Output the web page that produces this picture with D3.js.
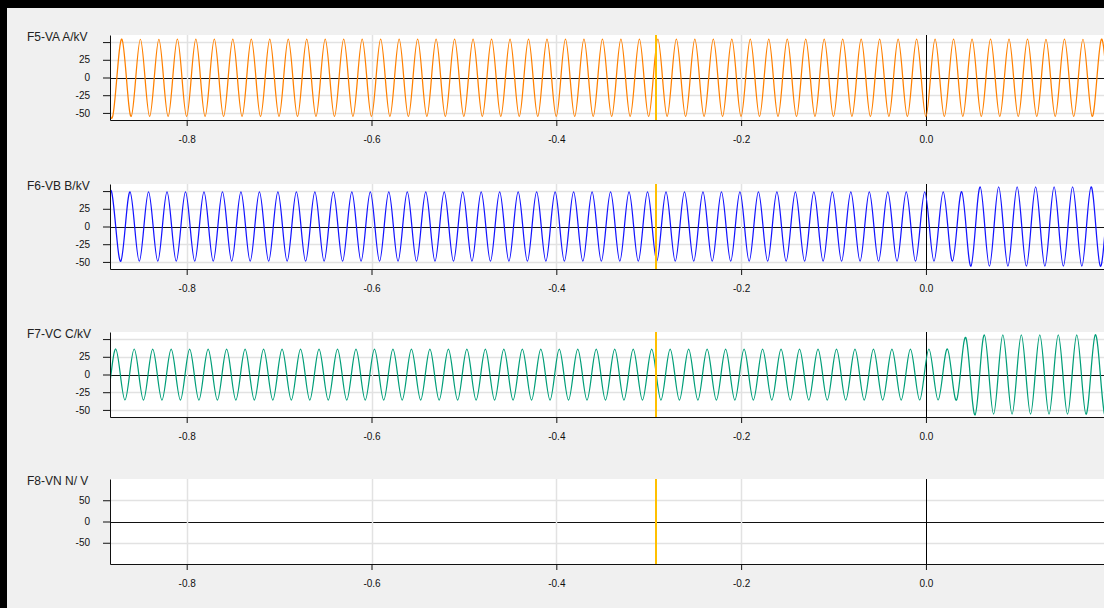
<!DOCTYPE html>
<html>
<head>
<meta charset="utf-8">
<script src="https://cdn.jsdelivr.net/npm/d3@7"></script>
<style>
html, body { margin: 0; padding: 0; background: #f0f0f0; overflow: hidden; }
svg { display: block; font-family: "Liberation Sans", Arial, sans-serif; }
#frame-left { position: fixed; left: 0; top: 0; width: 7px; height: 608px; background: #000; }
#frame-top { position: fixed; left: 0; top: 0; width: 1104px; height: 8px; background: #000; }
</style>
</head>
<body>
<svg id="chart"></svg>
<div id="frame-left"></div>
<div id="frame-top"></div>
<script>
// channel setup
const channelNames = ["F5-VA A/kV", "F6-VB B/kV", "F7-VC C/kV", "F8-VN N/ V"];
const channelColors = ["#ff8000", "#1414ff", "#009e78", null];
const channelLimits = [60, 60, 60, 100];
const timeTicks = [-0.8, -0.6, -0.4, -0.2, 0.0];
const kvTicks = [50, 25, 0, -25, -50];
const kvTickLabels = ["", "25", "0", "-25", "-50"];
const vTicks = [50, 0, -50];
const vTickLabels = ["50", "0", "-50"];
const cursorTime = -0.2924;

// peak / trough values read per half cycle (50 Hz -> 0.01 s apart)
const halfPeriod = 0.01;
const firstExtremeTime = [-0.8901, -0.8913, -0.9068];
const vaExtremes = [
    54, -55, 54, -55, 54, -55, 54, -55, 54, -55, 54, -55, 54, -55, 54, -55, 54, -55, 54, -55,
    54, -55, 54, -55, 54, -55, 54, -55, 54, -55, 54, -55, 54, -55, 54, -55, 54, -55, 54, -55,
    54, -55, 54, -55, 54, -55, 54, -55, 54, -55, 54, -55, 54, -55, 54, -55, 54, -55, 54, -55,
    54, -55, 54, -55, 54, -55, 54, -55, 54, -55, 54, -55, 54, -55, 54, -55, 54, -55, 54, -55,
    54, -55, 54, -55, 54, -55, 54, -55, 54, -55, 54, -55, 54, -55, 54, -55, 54, -55, 54, -55,
    54, -55, 54, -55, 54, -55, 54, -55, 54, -55, 54
];
const vbExtremes = [
    -49, 49, -49, 49, -49, 49, -49, 49, -49, 49, -49, 49, -49, 49, -49, 49, -49, 49, -49, 49,
    -49, 49, -49, 49, -49, 49, -49, 49, -49, 49, -49, 49, -49, 49, -49, 49, -49, 49, -49, 49,
    -49, 49, -49, 49, -49, 49, -49, 49, -49, 49, -49, 49, -49, 49, -49, 49, -49, 49, -49, 49,
    -49, 49, -49, 49, -49, 49, -49, 49, -49, 49, -49, 49, -49, 49, -49, 49, -49, 49, -49, 49,
    -49, 49, -49, 49, -49, 49, -49, 49, -49, 49, -49, 49, -49, 49,
    -56, 56, -56, 56, -56, 56, -56, 56, -56, 56, -56, 56, -56, 56, -56, 56, -56
];
const vcExtremes = [
    -36, 36, -36, 36, -36, 36, -36, 36, -36, 36, -36, 36, -36, 36, -36, 36, -36, 36, -36, 36,
    -36, 36, -36, 36, -36, 36, -36, 36, -36, 36, -36, 36, -36, 36, -36, 36, -36, 36, -36, 36,
    -36, 36, -36, 36, -36, 36, -36, 36, -36, 36, -36, 36, -36, 36, -36, 36, -36, 36, -36, 36,
    -36, 36, -36, 36, -36, 36, -36, 36, -36, 36, -36, 36, -36, 36, -36, 36, -36, 36, -36, 36,
    -36, 36, -36, 36, -36, 36, -36, 36, -36, 36, -36, 36, -36, 36, -36,
    52, -57,
    56, -56, 56, -56, 56, -56, 56, -56, 56, -56, 56, -56, 56, -56, 56
];
const channelExtremes = [vaExtremes, vbExtremes, vcExtremes, []];

const svgWidth = 1104, svgHeight = 608;
const plotLeft = 110, plotRight = 1120, panelHeight = 85;
const panelTops = [35, 184, 332, 479];

const svg = d3.select('#chart')
    .attr("width", svgWidth)
    .attr("height", svgHeight);

svg.append("rect").attr("width", svgWidth).attr("height", svgHeight).attr("fill", "#f0f0f0");

const x = d3.scaleLinear()
    .domain([-0.883, 0.21])
    .range([plotLeft, plotRight]);

// snap 1px lines to the pixel grid
const crisp = v => Math.round(v) + 0.5;

channelNames.forEach((name, i) => {
    const top = panelTops[i];
    const lim = channelLimits[i];
    const y = d3.scaleLinear()
        .domain([-lim, lim])
        .range([top + panelHeight, top]);
    const yTicks = i < 3 ? kvTicks : vTicks;
    const yLabels = i < 3 ? kvTickLabels : vTickLabels;

    const g = svg.append("g");

    g.append("clipPath")
        .attr("id", "clip" + i)
        .append("rect")
        .attr("x", plotLeft)
        .attr("y", top)
        .attr("width", plotRight - plotLeft)
        .attr("height", panelHeight);

    g.append("rect")
        .attr("x", plotLeft)
        .attr("y", top)
        .attr("width", plotRight - plotLeft)
        .attr("height", panelHeight)
        .attr("fill", "#fff");

    // grid
    g.selectAll(".hgrid")
        .data(yTicks)
        .enter().append("line")
        .attr("x1", plotLeft).attr("x2", plotRight)
        .attr("y1", d => crisp(y(d))).attr("y2", d => crisp(y(d)))
        .attr("stroke", d => d === 0 ? "#111" : "#e2e2e2")
        .attr("stroke-width", d => d === 0 ? 1 : 1.5);

    g.selectAll(".vgrid")
        .data(timeTicks)
        .enter().append("line")
        .attr("x1", d => crisp(x(d))).attr("x2", d => crisp(x(d)))
        .attr("y1", top).attr("y2", top + panelHeight)
        .attr("stroke", d => d === 0 ? "#000" : "#e2e2e2")
        .attr("stroke-width", d => d === 0 ? 1 : 1.5);

    // waveform
    const extremes = channelExtremes[i];
    if (extremes.length) {
        const pts = extremes.map((v, k) => ({ t: firstExtremeTime[i] + k * halfPeriod, v: v }));
        const line = d3.line()
            .x(d => x(d.t))
            .y(d => y(d.v))
            .curve(d3.curveNatural);
        g.append("path")
            .datum(pts)
            .attr("clip-path", "url(#clip" + i + ")")
            .attr("fill", "none")
            .attr("stroke", channelColors[i])
            .attr("stroke-width", 1.25)
            .attr("d", line);
    }

    // cursor
    g.append("line")
        .attr("x1", Math.round(x(cursorTime))).attr("x2", Math.round(x(cursorTime)))
        .attr("y1", top).attr("y2", top + panelHeight)
        .attr("stroke", "#ffc000")
        .attr("stroke-width", 2);

    // axes
    g.append("g")
        .attr("transform", "translate(" + plotLeft + ",0)")
        .attr("color", "#111")
        .call(d3.axisLeft(y)
            .tickValues(yTicks)
            .tickFormat((d, j) => yLabels[j])
            .tickSize(7)
            .tickSizeOuter(0)
            .tickPadding(13))
        .attr("font-size", 10)
        .attr("font-family", null);

    g.append("g")
        .attr("transform", "translate(0," + (top + panelHeight) + ")")
        .attr("color", "#111")
        .call(d3.axisBottom(x)
            .tickValues(timeTicks)
            .tickFormat(d => d.toFixed(1))
            .tickSize(6)
            .tickSizeOuter(0)
            .tickPadding(10))
        .attr("font-size", 10)
        .attr("font-family", null);

    g.append("text")
        .attr("x", 27)
        .attr("y", top + 6)
        .attr("font-size", 12)
        .attr("fill", "#222")
        .text(name);
});
</script>
</body>
</html>
